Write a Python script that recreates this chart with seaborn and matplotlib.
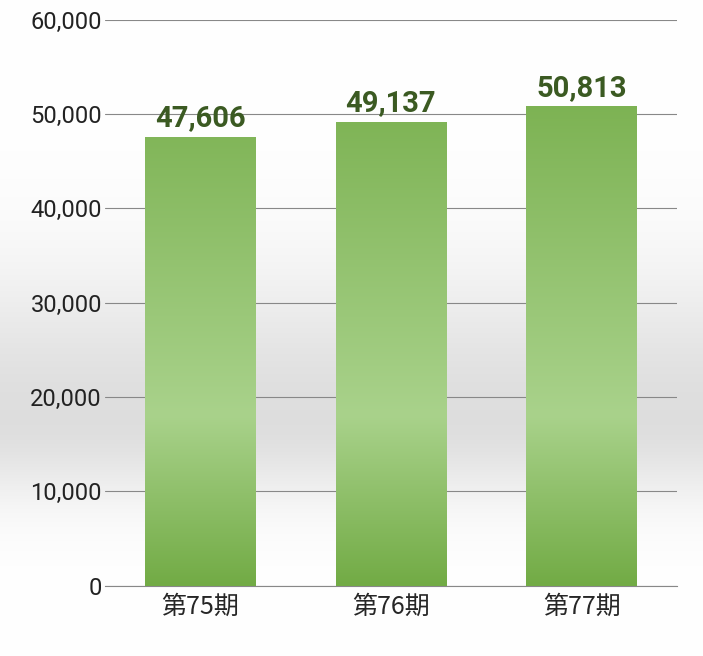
import numpy as np
import pandas as pd
import matplotlib
matplotlib.use("Agg")
import matplotlib.pyplot as plt
from matplotlib.colors import LinearSegmentedColormap
import seaborn as sns

categories = ["第75期", "第76期", "第77期"]
values = [47606, 49137, 50813]
yticks = [0, 10000, 20000, 30000, 40000, 50000, 60000]

sns.set_style("white")
plt.rcParams['font.family'] = ['Roboto', 'Noto Sans CJK JP', 'DejaVu Sans']

fig = plt.figure(figsize=(7.03, 6.56), dpi=100)
bg = fig.add_axes([0, 0, 1, 1], zorder=-10)
bg.axis("off")
yy = np.linspace(0, 1, 300)
g = np.where(yy < 0.36, 1 - 0.13 * np.exp(-((yy - 0.36) / 0.12) ** 2),
             1 - 0.13 * np.exp(-((yy - 0.36) / 0.22) ** 2))
img = np.stack([g, g, g], axis=-1).reshape(300, 1, 3)
bg.imshow(img, aspect="auto", extent=[0, 1, 0, 1], origin="lower")
bg.set_xlim(0, 1); bg.set_ylim(0, 1)

ax = fig.add_axes([0.149, 0.107, 0.814, 0.863])
ax.patch.set_alpha(0)
df = pd.DataFrame({"cat": categories, "val": values})
sns.barplot(data=df, x="cat", y="val", ax=ax, width=0.58, color="#7cb24f")
ax.set_ylim(0, 60000)
ax.set_xlim(-0.5, 2.5)
cmap = LinearSegmentedColormap.from_list("g", [(0, "#72ab45"), (0.3, "#a9d28b"), (1, "#71aa44")])
for p in ax.patches:
    x0, w, h = p.get_x(), p.get_width(), p.get_height()
    grad = np.linspace(0, 1, 256).reshape(-1, 1)
    im = ax.imshow(grad, cmap=cmap, aspect="auto", origin="lower",
                   extent=[x0, x0 + w, 0, 60000], zorder=3)
    im.set_clip_path(p)
    p.set_alpha(0)
    ax.text(x0 + w / 2, h + 500, f"{int(h):,}", ha="center", va="bottom",
            fontsize=21, fontweight="bold", color="#3b5a22", zorder=4)

ax.set_yticks(yticks)
ax.set_yticklabels([f"{v:,}" for v in yticks], fontsize=17, color="#222")
ax.tick_params(axis="x", labelsize=18, length=0, pad=6)
ax.tick_params(axis="y", length=0, pad=2)
for lab in ax.get_xticklabels():
    lab.set_family(['Noto Sans CJK JP', 'DejaVu Sans'])
ax.grid(axis="y", color="#888", lw=0.8)
ax.set_axisbelow(True)
ax.set_xlabel(""); ax.set_ylabel("")
for s in ["top", "right", "left"]:
    ax.spines[s].set_visible(False)
ax.spines["bottom"].set_color("#888")
fig.savefig("out.png", dpi=100)
